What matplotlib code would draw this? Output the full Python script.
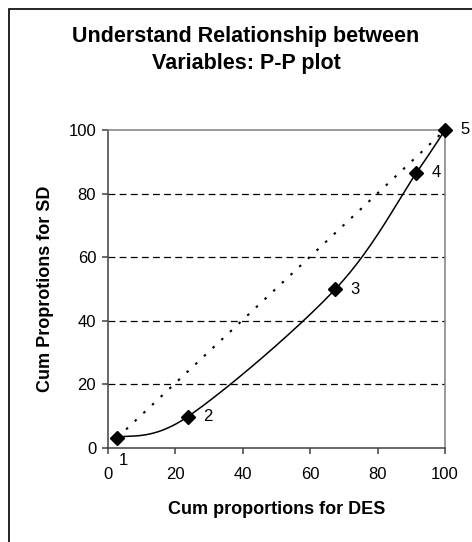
import numpy as np
import matplotlib.pyplot as plt

plt.rcParams['font.family'] = ['Liberation Sans', 'DejaVu Sans']

# data
des = [2.8, 23.6, 67.5, 91.5, 100]
sd = [3.3, 9.8, 50, 86.5, 100]
point_labels = ['1', '2', '3', '4', '5']
ticks = [0, 20, 40, 60, 80, 100]


def excel_smooth(x, y, n=40):
    # Bezier smoothing like a spreadsheet "smoothed line"
    px = np.array(x, float)
    py = np.array(y, float)
    xs, ys = [], []
    for i in range(len(px) - 1):
        i0 = max(i - 1, 0)
        i3 = min(i + 2, len(px) - 1)
        c1x = px[i] + (px[i + 1] - px[i0]) / 6
        c1y = py[i] + (py[i + 1] - py[i0]) / 6
        c2x = px[i + 1] - (px[i3] - px[i]) / 6
        c2y = py[i + 1] - (py[i3] - py[i]) / 6
        t = np.linspace(0, 1, n)
        a = (1 - t) ** 3
        b = 3 * (1 - t) ** 2 * t
        c = 3 * (1 - t) * t ** 2
        d = t ** 3
        xs.extend(a * px[i] + b * c1x + c * c2x + d * px[i + 1])
        ys.extend(a * py[i] + b * c1y + c * c2y + d * py[i + 1])
    return xs, ys


W, H = 472, 542
fig = plt.figure(figsize=(W / 100, H / 100), dpi=100)
# outer chart border (only left and top edges fall inside the image)
fig.patches.append(plt.Rectangle((9 / W, -0.05), 1.0, 1.05 - 9 / H,
                                 transform=fig.transFigure, fill=False,
                                 edgecolor='black', linewidth=1.2))

ax = fig.add_axes([108 / W, 1 - 448 / H, 337 / W, 318 / H])

for g in ticks[1:-1]:
    ax.axhline(g, color='black', linestyle=(0, (5.5, 3.4)), linewidth=0.9, zorder=1)

ax.plot([des[0], des[-1]], [sd[0], sd[-1]], color='black', linestyle=(0, (1.2, 4.5)),
        linewidth=1.5, zorder=2)

sx, sy = excel_smooth(des, sd)
ax.plot(sx, sy, color='black', linewidth=1.1, zorder=3)
ax.plot(des, sd, linestyle='none', marker='D', markersize=7, color='black',
        zorder=4, clip_on=False)

for i, (x, y, lab) in enumerate(zip(des, sd, point_labels)):
    if i == 0:
        ax.annotate(lab, (x, y), xytext=(1, -16.5), textcoords='offset points',
                    fontsize=12, va='center', ha='left')
    else:
        ax.annotate(lab, (x, y), xytext=(11, 0), textcoords='offset points',
                    fontsize=12, va='center', ha='left')

ax.set_xlim(0, 100)
ax.set_ylim(0, 100)
ax.set_xticks(ticks)
ax.set_yticks(ticks)
ax.tick_params(labelsize=12, direction='out', length=4, width=1.1, color='#404040')
ax.tick_params(axis='x', pad=10)
ax.tick_params(axis='y', pad=4.5)
for side in ['top', 'right']:
    ax.spines[side].set_color('#808080')
    ax.spines[side].set_linewidth(1.1)
for side in ['left', 'bottom']:
    ax.spines[side].set_color('#404040')
    ax.spines[side].set_linewidth(1.1)

ax.set_xlabel('Cum proportions for DES', fontsize=13, fontweight='bold', va='center')
ax.xaxis.set_label_coords(0.5, -62 / 318)
ax.set_ylabel('Cum Proprotions for SD', fontsize=13, fontweight='bold', va='center')
ax.yaxis.set_label_coords(-63 / 337, 0.5)

fig.text(246 / W, 1 - 50 / H, 'Understand Relationship between\nVariables: P-P plot',
         ha='center', va='center', fontsize=15.5, fontweight='bold', linespacing=1.4)

fig.savefig('out.png', dpi=100)
